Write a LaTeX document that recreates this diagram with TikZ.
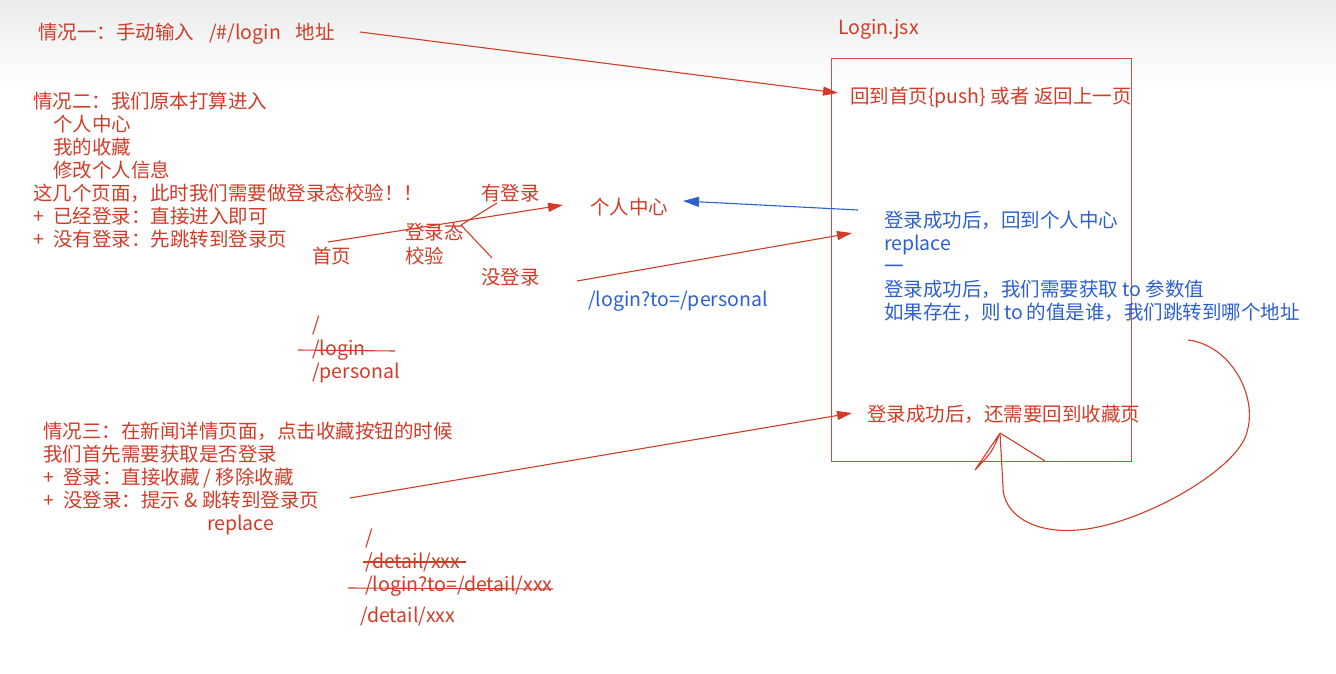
\documentclass[tikz,border=0pt]{standalone}
\usepackage{fontspec}
\setmainfont{Noto Sans CJK SC}
\usetikzlibrary{arrows.meta}
\definecolor{myred}{RGB}{208,60,40}
\definecolor{boxred}{RGB}{210,80,65}
\definecolor{myblue}{RGB}{44,96,204}
\begin{document}
\begin{tikzpicture}[x=1pt,y=-1pt,
  txt/.style={anchor=base west, inner sep=0pt, text=myred, font=\fontsize{19.5}{23}\selectfont},
  btxt/.style={txt, text=myblue},
  redline/.style={draw=myred, line width=1.1pt},
  redarrow/.style={redline, -{Triangle[length=15pt,width=9pt]}},
  bluearrow/.style={draw=myblue, line width=1.1pt, -{Triangle[length=16pt,width=10pt]}}]
\useasboundingbox (0,0) rectangle (1336,673);
\shade[top color={rgb,255:red,234;green,235;blue,235}, bottom color=white] (0,0) rectangle (1336,85);

% box
\node[draw=boxred, line width=1.3pt, minimum width=300pt, minimum height=403pt, anchor=north west, inner sep=0pt] (box) at (831,58) {};

% texts
\node[txt] (t1) at (38,39) {情况一：手动输入\hspace{15pt}/\#/login\hspace{15pt}地址};
\node[txt] (ljsx) at (838,34) {Login.jsx};
\node[txt] (push) at (850,103) {回到首页\{push\} 或者 返回上一页};

\node[txt] (c2a) at (33,108) {情况二：我们原本打算进入};
\node[txt] (c2b) at (53,131) {个人中心};
\node[txt] (c2c) at (53,154) {我的收藏};
\node[txt] (c2d) at (53,177) {修改个人信息};
\node[txt] (c2e) at (33,200) {这几个页面，此时我们需要做登录态校验！！};
\node[txt] (c2f) at (33,223) {+\hspace{9pt}已经登录：直接进入即可};
\node[txt] (c2g) at (33,246) {+\hspace{9pt}没有登录：先跳转到登录页};

\node[txt] (shou) at (312,263) {首页};
\node[txt] (dlt1) at (405,239) {登录态};
\node[txt] (dlt2) at (405,263) {校验};
\node[txt] (you) at (481,200) {有登录};
\node[txt] (mei) at (481,284) {没登录};
\node[txt] (grzx) at (590,214) {个人中心};
\node[btxt] (lp) at (588,306) {/login?to=/personal};

\node[btxt] (b1) at (884,227) {登录成功后，回到个人中心};
\node[btxt] (b2) at (884,250) {replace};
\node[btxt] (b3) at (884,273) {一};
\node[btxt] (b4) at (884,296) {登录成功后，我们需要获取 to 参数值};
\node[btxt] (b5) at (884,319) {如果存在，则\,to\,的值是谁，我们跳转到哪个地址};

\node[txt] (s1) at (312,331) {/};
\node[txt] (s2) at (312,355) {/login};
\node[txt] (s3) at (312,378) {/personal};

\node[txt] (rsc) at (867,421) {登录成功后，还需要回到收藏页};

\node[txt] (c3a) at (43,438) {情况三：在新闻详情页面，点击收藏按钮的时候};
\node[txt] (c3b) at (43,461) {我们首先需要获取是否登录};
\node[txt] (c3c) at (43,484) {+\hspace{9pt}登录：直接收藏 / 移除收藏};
\node[txt] (c3d) at (43,507) {+\hspace{9pt}没登录：提示 \& 跳转到登录页};
\node[txt] (c3e) at (207,530) {replace};

\node[txt] (d1) at (365,544) {/};
\node[txt] (d2) at (365,568) {/detail/xxx};
\node[txt] (d3) at (365,591) {/login?to=/detail/xxx};
\node[txt] (d4) at (360,622) {/detail/xxx};

% coordinates
\coordinate (a1s) at (360,32);  \coordinate (a1e) at (838,93);
\coordinate (a2s) at (328,242); \coordinate (a2e) at (563,205);
\coordinate (fk) at (461,225);  \coordinate (fku) at (497,203); \coordinate (fkd) at (492,258);
\coordinate (a3s) at (858,210); \coordinate (a3e) at (683,201);
\coordinate (a4s) at (577,281); \coordinate (a4e) at (852,233);
\coordinate (a5s) at (350,498); \coordinate (a5e) at (852,413);
\coordinate (k1s) at (298,350); \coordinate (k1e) at (395,351);
\coordinate (k2s) at (363,562); \coordinate (k2e) at (466,562);
\coordinate (k3s) at (348,588); \coordinate (k3e) at (553,589);
\coordinate (cs) at (1188,340);
\coordinate (tip) at (1000,433);
\coordinate (hr) at (1045,461);
\coordinate (hl) at (975,470);

% connectors
\draw[redarrow] (a1s) -- (a1e);
\draw[redarrow] (a2s) -- (a2e);
\draw[redline] (fk) -- (fku);
\draw[redline] (fk) -- (fkd);
\draw[bluearrow] (a3s) -- (a3e);
\draw[redarrow] (a4s) -- (a4e);
\draw[redarrow] (a5s) -- (a5e);

% strike lines
\draw[redline] (k1s) -- (k1e);
\draw[redline] (k2s) -- (k2e);
\draw[redline] (k3s) -- (k3e);

% hand-drawn loop
\draw[redline] (cs) .. controls (1230,345) and (1258,395) .. (1247,432)
  .. controls (1238,470) and (1140,525) .. (1078,530)
  .. controls (1030,534) and (1003,512) .. (1003,487)
  -- (tip);
\draw[redline] (tip) -- (hr);
\draw[redline] (tip) .. controls (990,448) .. (hl) .. controls (992,452) .. (tip);
\end{tikzpicture}
\end{document}
